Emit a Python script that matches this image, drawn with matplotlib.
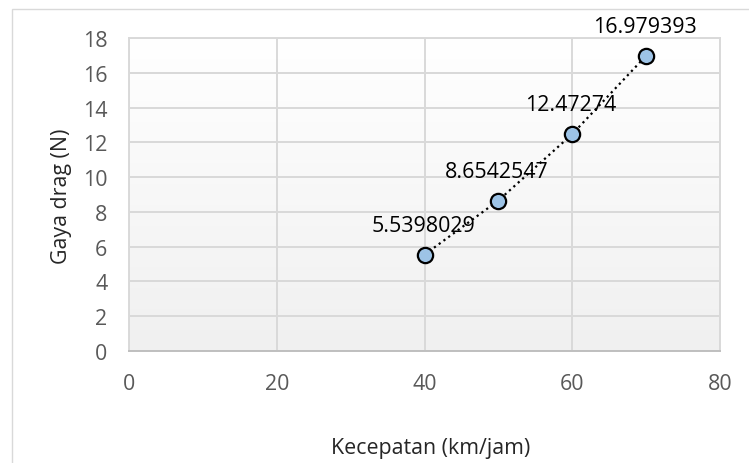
import numpy as np
import matplotlib.pyplot as plt
from matplotlib.colors import LinearSegmentedColormap
from matplotlib.patches import Rectangle

# Data
kecepatan = [40, 50, 60, 70]
gaya_drag = [5.5398029, 8.6542547, 12.47274, 16.979393]
label_text = ["5.5398029", "8.6542547", "12.47274", "16.979393"]
x_ticks = [0, 20, 40, 60, 80]
y_ticks = [0, 2, 4, 6, 8, 10, 12, 14, 16, 18]

W, H, DPI = 749, 464, 100
FS = 15.4
plt.rcParams['font.family'] = ['Open Sans', 'DejaVu Sans']

fig = plt.figure(figsize=(W / DPI, H / DPI), dpi=DPI)
fig.patch.set_facecolor('white')

# outer chart border
fig.add_artist(Rectangle((12 / W, -0.01), 1.1, (H - 10) / H + 0.01,
                         transform=fig.transFigure, fill=False,
                         edgecolor='#d9d9d9', linewidth=1.0))

ax = fig.add_axes([129 / W, (H - 352) / H, (720 - 129) / W, (352 - 39) / H])
ax.set_xlim(0, 80)
ax.set_ylim(0, 18)

# soft vertical gradient in the plot area
grad = np.linspace(0, 1, 256).reshape(-1, 1)
ax.imshow(grad, extent=[0, 80, 0, 18], aspect='auto', origin='upper',
          cmap=LinearSegmentedColormap.from_list('bg', ['#ffffff', '#f0f0f0']),
          zorder=0)

ax.set_xticks(x_ticks)
ax.set_yticks(y_ticks)
ax.grid(True, color='#d9d9d9', linewidth=1.4, zorder=1)
ax.set_axisbelow(True)
for side in ['top', 'right', 'left', 'bottom']:
    ax.spines[side].set_color('#d9d9d9')
    ax.spines[side].set_linewidth(1.4)
ax.spines['bottom'].set_color('#bfbfbf')
ax.tick_params(length=0, labelsize=FS, labelcolor='#595959')
ax.tick_params(axis='y', pad=15.5)
ax.tick_params(axis='x', pad=15.5)

ax.plot(kecepatan, gaya_drag, linestyle=':', color='black', linewidth=1.6,
        marker='o', markersize=11, markerfacecolor='#9dc3e6',
        markeredgecolor='black', markeredgewidth=1.6, zorder=3)

for x, y, t in zip(kecepatan, gaya_drag, label_text):
    ax.annotate(t, (x, y), xytext=(-1, 21), textcoords='offset points',
                ha='center', va='center', fontsize=FS, color='black',
                zorder=4, annotation_clip=False)

fig.text(431 / W, 1 - 449 / H, 'Kecepatan (km/jam)', ha='center', va='center',
         fontsize=FS, color='#262626')
fig.text(62 / W, 1 - 196 / H, 'Gaya drag (N)', ha='center', va='center',
         rotation=90, fontsize=FS, color='#262626')

fig.savefig('out.png', dpi=DPI)
